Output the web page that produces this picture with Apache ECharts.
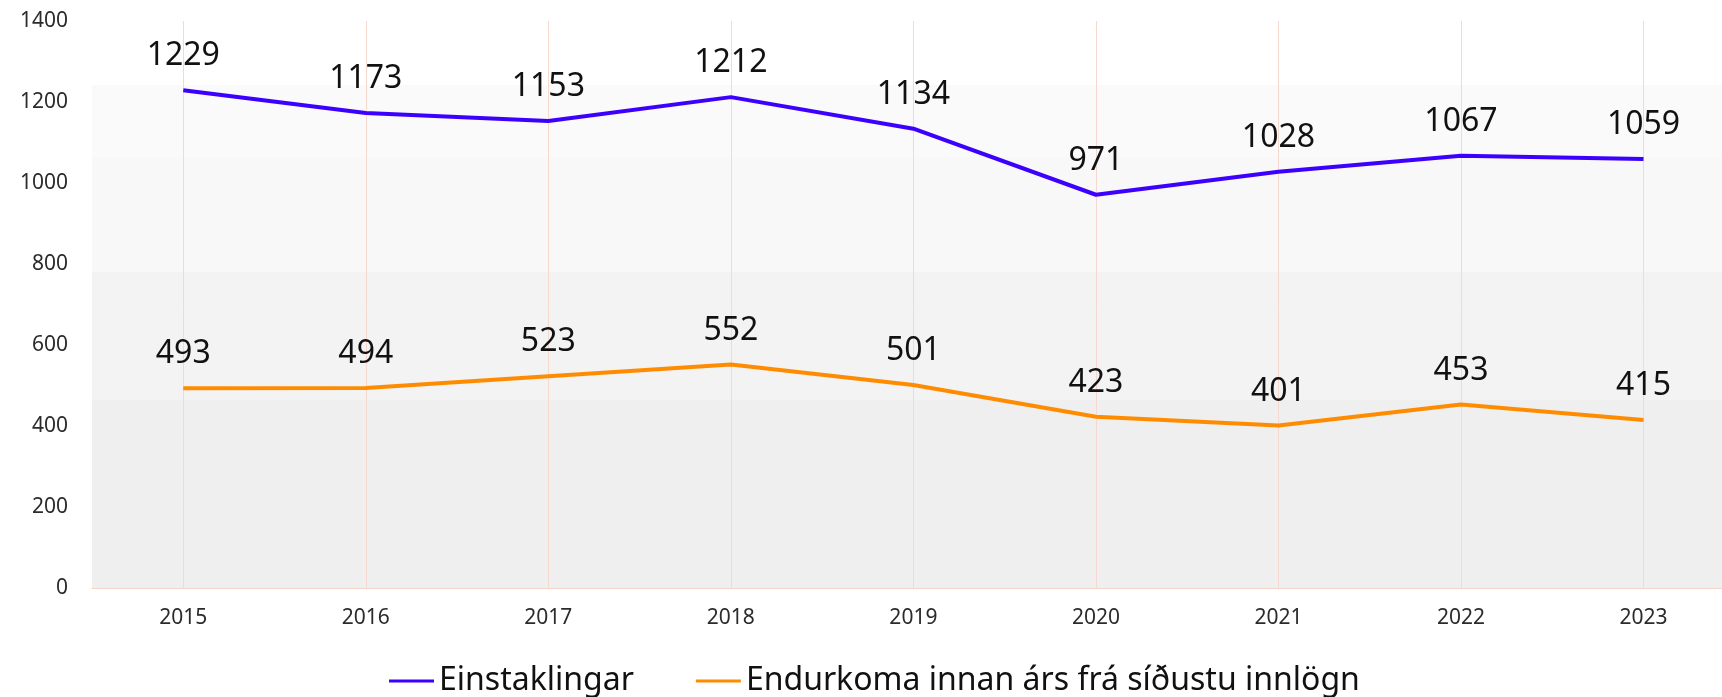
<!DOCTYPE html>
<html>
<head>
<meta charset="utf-8">
<title>Einstaklingar og endurkoma</title>
<script src="https://cdn.jsdelivr.net/npm/echarts@6/dist/echarts.min.js"></script>
<style>
    html, body { margin: 0; padding: 0; background: #fff; }
    #chart { width: 1722px; height: 697px; }
</style>
</head>
<body>
<div id="chart"></div>
<script>
// data
const years = [2015, 2016, 2017, 2018, 2019, 2020, 2021, 2022, 2023];
const einstaklingar = [1229, 1173, 1153, 1212, 1134, 971, 1028, 1067, 1059];
const endurkoma = [493, 494, 523, 552, 501, 423, 401, 453, 415];
const yTicks = [0, 200, 400, 600, 800, 1000, 1200, 1400];

const seriesNames = ['Einstaklingar', 'Endurkoma innan árs frá síðustu innlögn'];
const FONT = '"Noto Sans", sans-serif';

function pairs(vals) {
    return years.map(function(y, i) { return [y, vals[i]]; });
}

function lineSeries(name, vals, color) {
    return {
        name: name,
        type: 'line',
        data: pairs(vals),
        symbol: 'circle',
        symbolSize: 0,
        lineStyle: { color: color, width: 4 },
        itemStyle: { color: color },
        label: {
            show: true,
            position: 'top',
            distance: 18,
            fontSize: 32,
            fontFamily: FONT,
            color: '#111111'
        }
    };
}

const series = [
    lineSeries(seriesNames[0], einstaklingar, '#3c00ff'),
    lineSeries(seriesNames[1], endurkoma, '#ff8c00')
];

// thin vertical guide at every year
series[1].markLine = {
    silent: true,
    z: 1,
    symbol: 'none',
    label: { show: false },
    lineStyle: { color: '#f6d9ce', width: 1, type: 'solid' },
    data: years.map(function(y) { return { xAxis: y }; })
};

const chart = echarts.init(document.getElementById('chart'), null, { renderer: 'canvas' });

chart.setOption({
    animation: false,
    backgroundColor: '#ffffff',
    grid: {
        left: 92,
        right: 0,
        top: 21,
        bottom: 109,
        show: true,
        borderWidth: 0,
        backgroundColor: new echarts.graphic.LinearGradient(0, 0, 0, 1, [
            { offset: 0, color: '#ffffff' },
            { offset: 0.113, color: '#ffffff' },
            { offset: 0.113, color: '#fafafa' },
            { offset: 0.24, color: '#fafafa' },
            { offset: 0.24, color: '#f8f8f8' },
            { offset: 0.443, color: '#f8f8f8' },
            { offset: 0.443, color: '#f3f3f3' },
            { offset: 0.669, color: '#f3f3f3' },
            { offset: 0.669, color: '#efefef' },
            { offset: 1, color: '#efefef' }
        ])
    },
    legend: {
        data: seriesNames.map(function(n) { return { name: n, icon: 'rect' }; }),
        left: 384,
        top: 660,
        itemWidth: 45,
        itemHeight: 3,
        itemGap: 62,
        textStyle: { fontSize: 32, fontFamily: FONT, color: '#111111' }
    },
    xAxis: {
        type: 'value',
        min: 2014.5,
        max: 2023.43,
        interval: 0.5,
        axisLine: { show: true, lineStyle: { color: '#f6d5c8', width: 1 } },
        axisTick: { show: false },
        splitLine: { show: false },
        axisLabel: {
            showMinLabel: false,
            showMaxLabel: false,
            margin: 20,
            fontSize: 21,
            fontFamily: FONT,
            color: '#2b2b2b',
            formatter: function(v) {
                return years.indexOf(Math.round(v * 100) / 100) >= 0 ? String(v) : '';
            }
        }
    },
    yAxis: {
        type: 'value',
        min: yTicks[0],
        max: yTicks[yTicks.length - 1],
        interval: 200,
        axisLine: { show: false },
        axisTick: { show: false },
        splitLine: { show: false },
        axisLabel: {
            margin: 24,
            fontSize: 21,
            fontFamily: FONT,
            color: '#2b2b2b',
            formatter: function(v) { return String(v); }
        }
    },
    series: series
});
</script>
</body>
</html>
